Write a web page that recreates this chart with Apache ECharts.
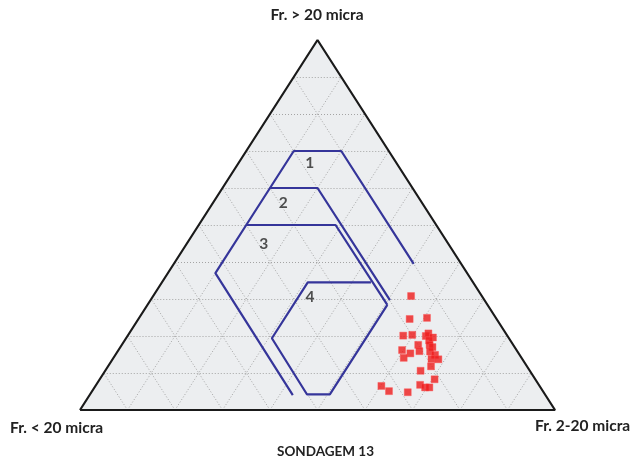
<!DOCTYPE html>
<html>
<head>
<meta charset="utf-8">
<script src="https://cdn.jsdelivr.net/npm/echarts@6/dist/echarts.min.js"></script>
<style>
html,body{margin:0;padding:0;background:#fff;}
#chart{width:634px;height:463px;}
</style>
</head>
<body>
<div id="chart"></div>
<script>
// Axis (corner) labels
const axisLabels = { top: 'Fr. > 20 micra', left: 'Fr. < 20 micra', right: 'Fr. 2-20 micra' };
const chartTitle = 'SONDAGEM 13';
// Grid line fractions
const gridTicks = [0.1, 0.2, 0.3, 0.4, 0.5, 0.6, 0.7, 0.8, 0.9];

// Sample values: fraction > 20 micra (top) and fraction 2-20 micra (right)
const sampleTop = [0.308, 0.246, 0.249, 0.201, 0.203, 0.200, 0.207, 0.196, 0.188, 0.176,
                   0.159, 0.176, 0.170, 0.162, 0.153, 0.158, 0.141, 0.149, 0.138, 0.137,
                   0.118, 0.106, 0.083, 0.068, 0.061, 0.061, 0.065, 0.051, 0.048];
const sampleRight = [0.543, 0.571, 0.606, 0.580, 0.598, 0.628, 0.630, 0.645, 0.641, 0.624,
                     0.635, 0.648, 0.657, 0.597, 0.619, 0.658, 0.611, 0.673, 0.671, 0.686,
                     0.680, 0.664, 0.705, 0.682, 0.696, 0.705, 0.602, 0.625, 0.666];

// Field boundaries, as [top fraction, right fraction] vertices
const field1 = [[0.6, 0.1], [0.7, 0.1], [0.7, 0.2], [0.395, 0.505]];
const field2 = [[0.5, 0.1], [0.6, 0.1], [0.6, 0.2], [0.297, 0.504]];
const field3 = [[0.040, 0.428], [0.370, 0.100], [0.5, 0.1], [0.5, 0.288], [0.284, 0.505]];
const field4 = [[0.345, 0.440], [0.345, 0.307], [0.194, 0.307], [0.042, 0.457], [0.042, 0.505], [0.284, 0.505]];
const fieldNames = ['1', '2', '3', '4'];
const fieldLabelPos = [[0.667, 0.150], [0.560, 0.148], [0.450, 0.162], [0.306, 0.331]];

// ternary (top, right) -> cartesian data coords (x in [0,1], y in [0,1])
function tern(t, r) { return [r + t / 2, t]; }

const corners = [tern(0, 0), tern(0, 1), tern(1, 0)];

const gridSegs = [];
gridTicks.forEach(k => {
  gridSegs.push({ coords: [tern(k, 0), tern(k, 1 - k)] });        // constant top
  gridSegs.push({ coords: [tern(0, k), tern(1 - k, k)] });        // constant right
  gridSegs.push({ coords: [tern(0, 1 - k), tern(1 - k, 0)] });    // constant left
});

const blue = '#35359a';
function fieldSeries(f) {
  return {
    type: 'line', data: f.map(p => tern(p[0], p[1])), symbol: 'none', z: 4,
    lineStyle: { color: blue, width: 2.2 }, silent: true, animation: false
  };
}

const chart = echarts.init(document.getElementById('chart'), null, { renderer: 'canvas' });
const fontFam = 'Lato, "Open Sans", sans-serif';
const labelFont = 'bold 15.5px ' + fontFam;
chart.setOption({
  animation: false,
  backgroundColor: '#ffffff',
  grid: { left: 80, right: 79, top: 40, bottom: 53 },
  xAxis: { type: 'value', min: 0, max: 1, show: false },
  yAxis: { type: 'value', min: 0, max: 1, show: false },
  graphic: [
    { type: 'text', left: 'center', top: 7, style: { text: axisLabels.top, font: labelFont, fill: '#222' } },
    { type: 'text', left: 10, top: 420, style: { text: axisLabels.left, font: labelFont, fill: '#222' } },
    { type: 'text', left: 535, top: 418, style: { text: axisLabels.right, font: labelFont, fill: '#222' } },
    { type: 'text', left: 277, top: 445, style: { text: chartTitle, font: 'bold 13.5px ' + fontFam, fill: '#222' } }
  ],
  series: [
    {
      type: 'custom', z: 1, silent: true,
      data: [0],
      renderItem: function (params, api) {
        return {
          type: 'polygon',
          shape: { points: corners.map(c => api.coord(c)) },
          style: { fill: '#eceef0', stroke: null }
        };
      }
    },
    {
      type: 'lines', coordinateSystem: 'cartesian2d', z: 2, silent: true,
      data: gridSegs,
      lineStyle: { color: '#a4a4a4', width: 1, type: [1, 2], opacity: 1 }
    },
    {
      type: 'line', z: 3, symbol: 'none', silent: true,
      data: corners.concat([corners[0]]),
      lineStyle: { color: '#1a1a1a', width: 2.2 }
    },
    fieldSeries(field1), fieldSeries(field2), fieldSeries(field3), fieldSeries(field4),
    {
      type: 'scatter', z: 5, symbol: 'circle', symbolSize: 2, silent: true,
      itemStyle: { color: 'rgba(0,0,0,0)' },
      data: fieldLabelPos.map((p, i) => ({ value: tern(p[0], p[1]), name: fieldNames[i] })),
      label: { show: true, position: 'inside', formatter: '{b}', color: '#262626', fontWeight: 'bold', fontSize: 15.5, fontFamily: 'Lato' }
    },
    {
      type: 'scatter', z: 6, symbol: 'rect', symbolSize: 7,
      data: sampleTop.map((t, i) => tern(t, sampleRight[i])),
      itemStyle: { color: '#ee1c1c', borderColor: '#f55', borderWidth: 0.5 }
    }
  ]
});
</script>
</body>
</html>
